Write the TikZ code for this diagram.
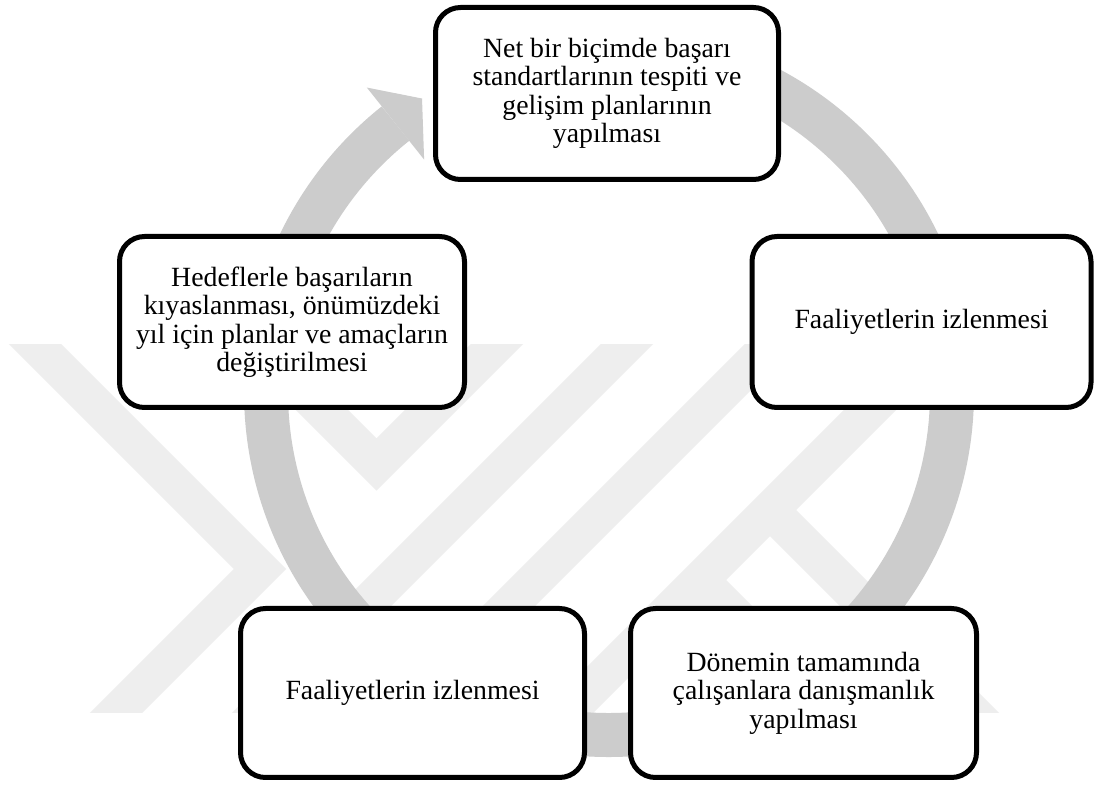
\documentclass[tikz,border=0pt]{standalone}
\usepackage{fontspec}
\setmainfont{Liberation Serif}
\usepackage{xcolor}
\usepackage{tikz}
\definecolor{ringgray}{HTML}{CCCCCC}
\definecolor{markgray}{HTML}{EEEEEE}

\begin{document}
\begin{tikzpicture}[x=1pt,y=1pt,
  stage/.style={draw=black,line width=5pt,fill=white,rounded corners=25pt,
    inner sep=0pt,align=center,font=\fontsize{27.8}{28.5}\selectfont},
  band/.style={draw=markgray,line width=37pt,line join=miter}]
\useasboundingbox (0,0) rectangle (1095,787);
\fill[white] (0,0) rectangle (1095,787);
\begin{scope}
\clip (0,74) rectangle (1095,442);
\draw[band] (6,472) -- (260,218) -- (86,44);
\draw[band] (227,472) -- (376.5,322.5) -- (526,472);
\draw[band] (656,472) -- (228,44);
\draw[band] (800,472) -- (372,44);
\draw[band] (965,472) -- (537,44);
\draw[band] (770,277) -- (1003,44);
\draw[band] (690,217) -- (863,44);
\end{scope}
\coordinate (hub) at (609,395);
\draw[ringgray,line width=44pt] ([shift={(95:343)}]hub) arc[start angle=95,end angle=-231.5,radius=343];
\fill[ringgray] ([shift={(128.5:297)}]hub) -- ([shift={(122.5:348)}]hub) -- ([shift={(128.5:389)}]hub) -- cycle;
\node[stage,minimum width=343pt,minimum height=172pt] (plan) at (607,693.5)
  {Net bir biçimde başarı\\standartlarının tespiti ve\\gelişim planlarının\\yapılması};
\node[stage,minimum width=339pt,minimum height=171pt] (watchR) at (921.5,465) {Faaliyetlerin izlenmesi};
\node[stage,minimum width=346pt,minimum height=169pt] (counsel) at (803.5,94)
  {Dönemin tamamında\\çalışanlara danışmanlık\\yapılması};
\node[stage,minimum width=344pt,minimum height=169pt] (watchL) at (412.5,94) {Faaliyetlerin izlenmesi};
\node[stage,minimum width=345pt,minimum height=171pt] (review) at (292,465)
  {Hedeflerle başarıların\\kıyaslanması, önümüzdeki\\yıl için planlar ve amaçların\\değiştirilmesi};
\end{tikzpicture}
\end{document}
